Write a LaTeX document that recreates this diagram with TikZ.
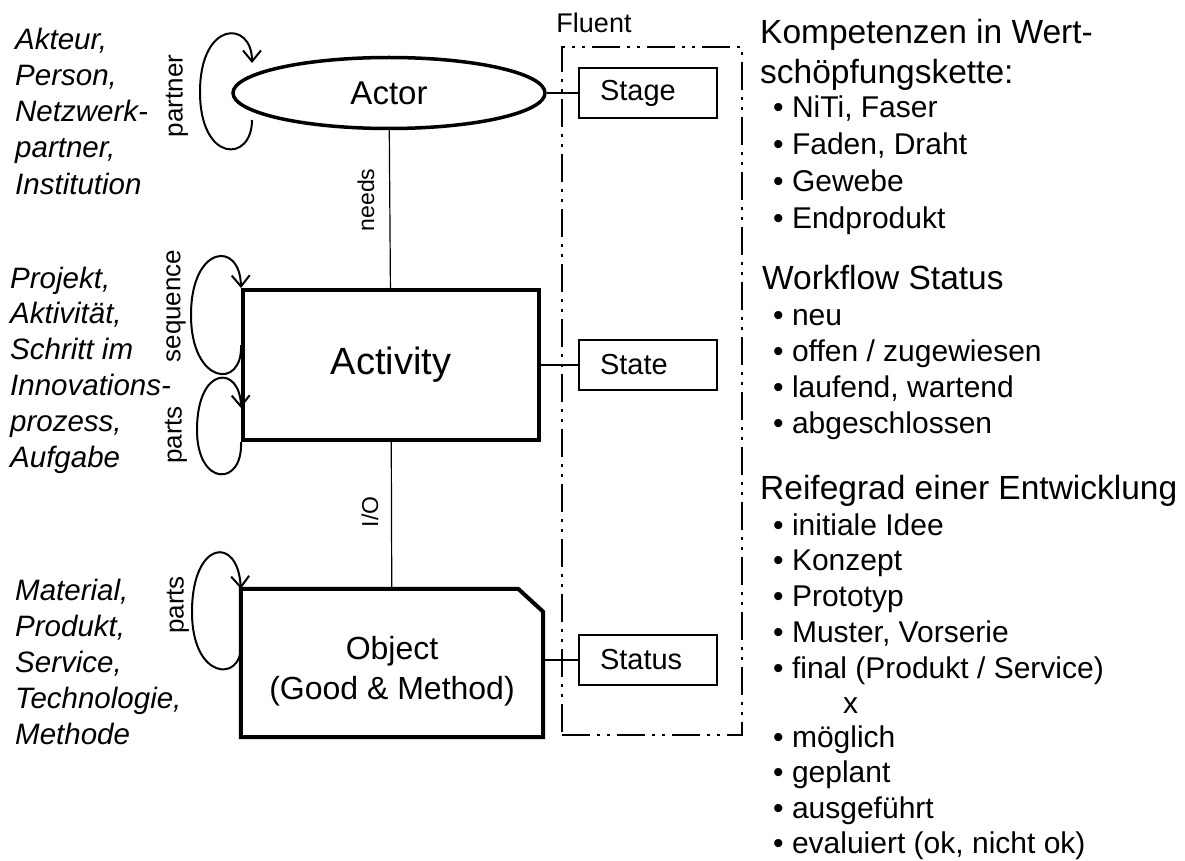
\documentclass[tikz,border=0pt]{standalone}
\usepackage{fontspec}
\setmainfont{Liberation Sans}
\usetikzlibrary{shapes.geometric, arrows.meta}

\tikzset{
  actorshape/.style={draw, ellipse, line width=3.5pt, minimum width=312pt, minimum height=71pt, inner sep=0pt, font=\fontsize{33}{38}\selectfont},
  entitybox/.style={draw, line width=4pt, minimum width=296pt, minimum height=150pt, font=\fontsize{38}{44}\selectfont},
  objshape/.style={minimum width=302pt, minimum height=148pt, align=center, font=\fontsize{32}{40}\selectfont},
  fluentbox/.style={draw, line width=2.5pt, dash pattern=on 28pt off 7pt on 3pt off 7pt on 3pt off 7pt, minimum width=180pt, minimum height=688pt, inner sep=0pt},
  smallbox/.style={draw, line width=1.2pt, minimum height=50pt, text width=96pt, align=left, inner xsep=21pt, inner ysep=0pt, font=\fontsize{29}{34}\selectfont},
  conn/.style={line width=1.2pt},
  selfloop/.style={line width=2pt, -{Straight Barb[length=11pt,width=18pt]}},
  looplbl/.style={rotate=90, inner sep=0pt, font=\fontsize{26}{30}\selectfont},
  linklbl/.style={rotate=90, inner sep=0pt, font=\fontsize{23}{27}\selectfont},
  sidetext/.style={anchor=base west, inner sep=0pt, font=\fontsize{29.5}{35}\selectfont\itshape},
  headtext/.style={anchor=base west, inner sep=0pt, font=\fontsize{33.5}{38}\selectfont},
  itemtext/.style={anchor=base west, inner sep=0pt, font=\fontsize{30}{35}\selectfont}
}

\begin{document}
\begin{tikzpicture}[x=1pt,y=-1pt]
\useasboundingbox (0,0) rectangle (1185,861);

% main entities
\node[actorshape] (actor) at (389,93) {Actor};
\node[entitybox] (activity) at (391,365) {Activity};
\node[objshape] (object) at (392,663) {\rule{0pt}{40pt}Object\\(Good \& Method)};
\draw[line width=4pt] (object.south west) -- (object.north west) -- ([xshift=-25pt]object.north east)
  -- ([yshift=-23pt]object.north east) -- (object.south east) -- cycle;

% fluent column
\node[fluentbox] (fluent) at (652,391) {};
\node[anchor=base, inner sep=0pt, font=\fontsize{27}{32}\selectfont] (fluentlbl) at (594,33) {Fluent};
\node[smallbox] (stage) at (648,93) {Stage};
\node[smallbox] (state) at (648,365) {State};
\node[smallbox] (status) at (648,660) {Status};

\draw[conn] (actor) -- (stage);
\draw[conn] (activity) -- (state);
\draw[conn] (status.west -| object.east) -- (status.west);
\draw[conn] (actor) -- (activity);
\draw[conn] (activity) -- (object);
\node[linklbl] (needslbl) at (366,200) {needs};
\node[linklbl] (iolbl) at (370,512) {I/O};

% self loops
\coordinate (partnerS) at (252,120);
\coordinate (partnerE) at (252,63);
\draw[selfloop] (partnerS) .. controls (252,163) and (200,163) .. (200,92)
  .. controls (200,20) and (252,20) .. (partnerE);
\draw[selfloop] ([yshift=20pt]activity.west) .. controls (243,390) and (191,385) .. (191,315)
  .. controls (191,245) and (240,240) .. (activity.north west);
\draw[selfloop] (activity.south west) .. controls (243,487) and (197,487) .. (197,430)
  .. controls (197,365) and (240,365) .. ([yshift=-43pt]activity.west);
\draw[selfloop] ([yshift=16pt]object.west) .. controls (241,682) and (192,680) .. (192,612)
  .. controls (192,540) and (238,535) .. (object.north west);
\node[looplbl] (partnerlbl) at (177,96) {partner};
\node[looplbl] (seqlbl) at (176,306) {sequence};
\node[looplbl] (partslbl) at (176,435) {parts};
\node[looplbl] (objpartslbl) at (178,605) {parts};

% left side descriptions
\foreach \w [count=\i from 0] in {{Akteur,},{Person,},{Netzwerk-},{partner,},{Institution}}
  \node[sidetext] (actortxt\i) at (15,{50+36*\i}) {\w};
\foreach \w [count=\i from 0] in {{Projekt,},{Aktivität,},{Schritt im},{Innovations-},{prozess,},{Aufgabe}}
  \node[sidetext] (activitytxt\i) at (10,{288+35.9*\i}) {\w};
\foreach \w [count=\i from 0] in {{Material,},{Produkt,},{Service,},{Technologie,},{Methode}}
  \node[sidetext] (objecttxt\i) at (15,{600+36.2*\i}) {\w};

% right side lists
\node[headtext] (kompA) at (760,44) {Kompetenzen in Wert-};
\node[headtext] (kompB) at (760,84) {schöpfungskette:};
\foreach \w [count=\i from 0] in {{NiTi, Faser},{Faden, Draht},{Gewebe},{Endprodukt}}
  \node[itemtext] (komp\i) at (773,{118+36.7*\i}) {\textbullet\ \w};

\node[headtext] (workflow) at (762,289) {Workflow Status};
\foreach \w [count=\i from 0] in {{neu},{offen / zugewiesen},{laufend, wartend},{abgeschlossen}}
  \node[itemtext] (wf\i) at (773,{325+36*\i}) {\textbullet\ \w};

\node[headtext] (reife) at (760,499) {Reifegrad einer Entwicklung};
\foreach \w [count=\i from 0] in {{initiale Idee},{Konzept},{Prototyp},{Muster, Vorserie},{final (Produkt / Service)}}
  \node[itemtext] (rg\i) at (773,{535+35.8*\i}) {\textbullet\ \w};
\node[itemtext] (cross) at (843,713) {x};
\foreach \w [count=\i from 0] in {{möglich},{geplant},{ausgeführt},{evaluiert (ok, nicht ok)}}
  \node[itemtext] (ex\i) at (773,{747+35.5*\i}) {\textbullet\ \w};
\end{tikzpicture}
\end{document}
